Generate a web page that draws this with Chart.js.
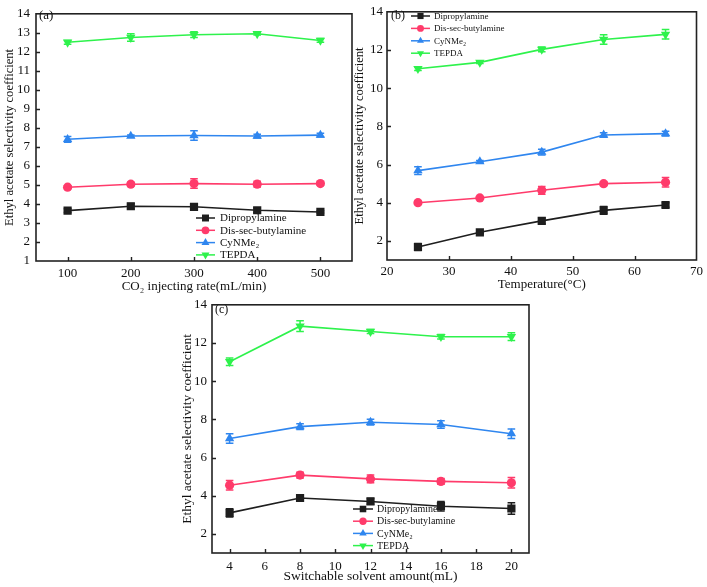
<!DOCTYPE html>
<html>
<head>
<meta charset="utf-8">
<script src="https://cdn.jsdelivr.net/npm/chart.js@4.4.0/dist/chart.umd.min.js"></script>
<style>
  html, body { margin: 0; padding: 0; background: #ffffff; }
  body { width: 707px; height: 587px; position: relative; overflow: hidden; }
  canvas { position: absolute; }
</style>
</head>
<body>
<canvas id="ca" width="358" height="300" style="left:0px;top:0px;"></canvas>
<canvas id="cb" width="355" height="300" style="left:352px;top:0px;"></canvas>
<canvas id="cc" width="400" height="295" style="left:170px;top:292px;"></canvas>
<script>
// ---------- DATA ----------
const seriesNames = ['Dipropylamine', 'Dis-sec-butylamine', 'CyNMe\u2082', 'TEPDA'];

// (a) CO2 injecting rate
const xA = [100, 200, 300, 400, 500];
const dipropA = [3.65, 3.88, 3.85, 3.67, 3.58];
const dipropErrA = [0.1, 0.15, 0.06, 0.12, 0.06];
const disecA = [4.88, 5.04, 5.07, 5.04, 5.07];
const disecErrA = [0.08, 0.1, 0.25, 0.15, 0.08];
const cynA = [7.4, 7.57, 7.6, 7.57, 7.62];
const cynErrA = [0.15, 0.06, 0.25, 0.1, 0.1];
const tepdaA = [12.5, 12.75, 12.9, 12.95, 12.6];
const tepdaErrA = [0.1, 0.2, 0.15, 0.06, 0.1];
const xTicksA = [100, 200, 300, 400, 500];
const yTicksA = [1, 2, 3, 4, 5, 6, 7, 8, 9, 10, 11, 12, 13, 14];

// (b) Temperature
const xB = [25, 35, 45, 55, 65];
const dipropB = [1.68, 2.45, 3.05, 3.6, 3.88];
const dipropErrB = [0.18, 0.06, 0.15, 0.2, 0.12];
const disecB = [4.0, 4.25, 4.65, 5.0, 5.07];
const disecErrB = [0.08, 0.06, 0.2, 0.1, 0.25];
const cynB = [5.68, 6.15, 6.65, 7.55, 7.62];
const cynErrB = [0.2, 0.06, 0.15, 0.12, 0.12];
const tepdaB = [11.02, 11.35, 12.03, 12.55, 12.82];
const tepdaErrB = [0.1, 0.06, 0.12, 0.25, 0.25];
const xTicksB = [20, 30, 40, 50, 60, 70];
const yTicksB = [2, 4, 6, 8, 10, 12, 14];

// (c) Switchable solvent amount
const xC = [4, 8, 12, 16, 20];
const dipropC = [3.1, 3.88, 3.7, 3.45, 3.33];
const dipropErrC = [0.22, 0.1, 0.15, 0.25, 0.3];
const disecC = [4.55, 5.08, 4.88, 4.75, 4.68];
const disecErrC = [0.25, 0.15, 0.2, 0.15, 0.28];
const cynC = [7.0, 7.62, 7.85, 7.73, 7.25];
const cynErrC = [0.25, 0.15, 0.15, 0.2, 0.25];
const tepdaC = [11.02, 12.88, 12.6, 12.33, 12.33];
const tepdaErrC = [0.2, 0.28, 0.1, 0.12, 0.2];
const xTicksC = [4, 6, 8, 10, 12, 14, 16, 18, 20];
const yTicksC = [2, 4, 6, 8, 10, 12, 14];

// ---------- STYLE ----------
const SERIF = '"Liberation Serif", "Times New Roman", serif';
const colors = ['#1e1e1e', '#ff3b6b', '#2f86ef', '#2ef24c'];
const pStyles = ['rect', 'circle', 'triangle', 'triangle'];
const pRot = [0, 0, 0, 180];
const pRad = [5.8, 4.6, 5.4, 5.4];
const AXIS = '#222222';

function mkData(xs, ys) { return xs.map((x, i) => ({ x: x, y: ys[i] })); }

function drawMarker(ctx, style, rot, r, x, y, color) {
  ctx.save();
  ctx.fillStyle = color;
  ctx.beginPath();
  if (style === 'rect') {
    const s = r * Math.SQRT1_2;
    ctx.rect(x - s, y - s, 2 * s, 2 * s);
  } else if (style === 'circle') {
    ctx.arc(x, y, r, 0, Math.PI * 2);
  } else {
    const dir = rot === 180 ? -1 : 1;
    ctx.moveTo(x, y - dir * r);
    ctx.lineTo(x - r * 0.866, y + dir * r * 0.5);
    ctx.lineTo(x + r * 0.866, y + dir * r * 0.5);
    ctx.closePath();
  }
  ctx.fill();
  ctx.restore();
}

const framePlugin = {
  id: 'frameTicks',
  afterDraw(chart, args, opts) {
    const ctx = chart.ctx;
    const a = chart.chartArea;
    ctx.save();
    ctx.strokeStyle = AXIS;
    ctx.lineWidth = 1.6;
    ctx.strokeRect(a.left, a.top, a.right - a.left, a.bottom - a.top);
    ctx.lineWidth = 1.4;
    const tl = 4;
    const xs = chart.scales.x, ys = chart.scales.y;
    ctx.beginPath();
    xs.ticks.forEach(t => {
      const px = Math.round(xs.getPixelForValue(t.value)) + 0.5;
      if (px > a.left + 1 && px < a.right - 1) {
        ctx.moveTo(px, a.bottom);
        ctx.lineTo(px, a.bottom - tl);
      }
    });
    ys.ticks.forEach(t => {
      const py = Math.round(ys.getPixelForValue(t.value)) + 0.5;
      if (py > a.top + 1 && py < a.bottom - 1) {
        ctx.moveTo(a.left, py);
        ctx.lineTo(a.left + tl, py);
      }
    });
    ctx.stroke();
    // panel label
    ctx.fillStyle = '#111';
    ctx.font = opts.labelSize + 'px ' + SERIF;
    ctx.textAlign = 'left';
    ctx.textBaseline = 'middle';
    ctx.fillText(opts.label, opts.labelX, opts.labelY);
    // legend
    const L = opts.legend;
    ctx.font = L.size + 'px ' + SERIF;
    seriesNames.forEach((name, i) => {
      const y = L.y + i * L.row;
      ctx.strokeStyle = colors[i];
      ctx.lineWidth = 1.5;
      ctx.beginPath();
      ctx.moveTo(L.x0, y);
      ctx.lineTo(L.x1, y);
      ctx.stroke();
      drawMarker(ctx, pStyles[i], pRot[i], pRad[i] * L.mk, (L.x0 + L.x1) / 2, y, colors[i]);
      ctx.fillStyle = '#111';
      ctx.fillText(name, L.tx, y + 0.5);
    });
    ctx.restore();
  }
};

const errorPlugin = {
  id: 'errBars',
  afterDatasetsDraw(chart) {
    const ctx = chart.ctx;
    const xs = chart.scales.x, ys = chart.scales.y;
    ctx.save();
    chart.data.datasets.forEach(ds => {
      ctx.strokeStyle = ds.borderColor;
      ctx.lineWidth = 1.5;
      ctx.beginPath();
      ds.data.forEach((p, i) => {
        const e = ds.errors[i];
        const px = xs.getPixelForValue(p.x);
        const y1 = ys.getPixelForValue(p.y + e);
        const y2 = ys.getPixelForValue(p.y - e);
        const cw = 3.8;
        ctx.moveTo(px, y1); ctx.lineTo(px, y2);
        ctx.moveTo(px - cw, y1); ctx.lineTo(px + cw, y1);
        ctx.moveTo(px - cw, y2); ctx.lineTo(px + cw, y2);
      });
      ctx.stroke();
    });
    ctx.restore();
  }
};

function buildChart(id, cfg) {
  const datasets = cfg.series.map((ys, i) => ({
    label: seriesNames[i],
    data: mkData(cfg.xs, ys),
    errors: cfg.errs[i],
    borderColor: colors[i],
    backgroundColor: colors[i],
    borderWidth: 1.6,
    pointStyle: pStyles[i],
    rotation: pRot[i],
    pointRadius: pRad[i],
    pointBorderWidth: 0,
    tension: 0,
    fill: false
  }));
  return new Chart(document.getElementById(id), {
    type: 'line',
    data: { datasets: datasets },
    options: {
      responsive: false,
      animation: false,
      devicePixelRatio: 1,
      layout: { padding: cfg.padding },
      plugins: {
        legend: { display: false },
        tooltip: { enabled: false },
        frameTicks: cfg.deco
      },
      scales: {
        x: {
          type: 'linear',
          min: cfg.xMin, max: cfg.xMax,
          afterBuildTicks: s => { s.ticks = cfg.xTicks.map(v => ({ value: v })); },
          afterFit: s => { s.height = cfg.xH; },
          grid: { display: false, drawTicks: false },
          border: { display: false },
          ticks: { color: '#111', font: { family: SERIF, size: cfg.tickSize }, padding: cfg.xTickPad, maxRotation: 0, autoSkip: false },
          title: { display: true, text: cfg.xTitle, color: '#111', font: { family: SERIF, size: cfg.titleSize }, padding: { top: 0, bottom: cfg.xTitlePad } }
        },
        y: {
          type: 'linear',
          min: cfg.yMin, max: cfg.yMax,
          afterBuildTicks: s => { s.ticks = cfg.yTicks.map(v => ({ value: v })); },
          afterFit: s => { s.width = cfg.yW; },
          grid: { display: false, drawTicks: false },
          border: { display: false },
          ticks: { color: '#111', font: { family: SERIF, size: cfg.tickSize }, padding: cfg.yTickPad, autoSkip: false },
          title: { display: true, text: 'Ethyl acetate selectivity coefficient', color: '#111', font: { family: SERIF, size: cfg.yTitleSize }, padding: { top: cfg.yTitlePad, bottom: 0 } }
        }
      }
    },
    plugins: [errorPlugin, framePlugin]
  });
}

buildChart('ca', {
  xs: xA,
  series: [dipropA, disecA, cynA, tepdaA],
  errs: [dipropErrA, disecErrA, cynErrA, tepdaErrA],
  xMin: 50, xMax: 550, xTicks: xTicksA,
  yMin: 1, yMax: 14, yTicks: yTicksA,
  xTitle: 'CO\u2082 injecting rate(mL/min)',
  padding: { top: 7, right: 6, left: 0, bottom: 0 },
  xH: 39, yW: 36,
  tickSize: 13, titleSize: 13, yTitleSize: 12.6,
  xTickPad: 5, yTickPad: 6, xTitlePad: 6, yTitlePad: 2.5,
  deco: { label: '(a)', labelX: 39, labelY: 16, labelSize: 13,
          legend: { x0: 196, x1: 215, tx: 220, y: 218, row: 12.3, size: 11, mk: 0.85 } }
});

buildChart('cb', {
  xs: xB,
  series: [dipropB, disecB, cynB, tepdaB],
  errs: [dipropErrB, disecErrB, cynErrB, tepdaErrB],
  xMin: 20, xMax: 70, xTicks: xTicksB,
  yMin: 1, yMax: 14, yTicks: yTicksB,
  xTitle: 'Temperature(\u00B0C)',
  padding: { top: 9, right: 7, left: 0, bottom: 0 },
  xH: 40, yW: 35,
  tickSize: 13, titleSize: 13, yTitleSize: 12.6,
  xTickPad: 4, yTickPad: 4, xTitlePad: 8, yTitlePad: 0.5,
  deco: { label: '(b)', labelX: 39, labelY: 16, labelSize: 12,
          legend: { x0: 59, x1: 78, tx: 82, y: 16, row: 12.4, size: 9, mk: 0.75 } }
});

buildChart('cc', {
  xs: xC,
  series: [dipropC, disecC, cynC, tepdaC],
  errs: [dipropErrC, disecErrC, cynErrC, tepdaErrC],
  xMin: 3, xMax: 21, xTicks: xTicksC,
  yMin: 1, yMax: 14, yTicks: yTicksC,
  xTitle: 'Switchable solvent amount(mL)',
  padding: { top: 8, right: 41, left: 0, bottom: 0 },
  xH: 34, yW: 42,
  tickSize: 13, titleSize: 13.5, yTitleSize: 13.5,
  xTickPad: 6, yTickPad: 5, xTitlePad: 2, yTitlePad: 9,
  deco: { label: '(c)', labelX: 45, labelY: 18, labelSize: 12,
          legend: { x0: 183, x1: 203, tx: 207, y: 217, row: 12.2, size: 10, mk: 0.8 } }
});
</script>
</body>
</html>
